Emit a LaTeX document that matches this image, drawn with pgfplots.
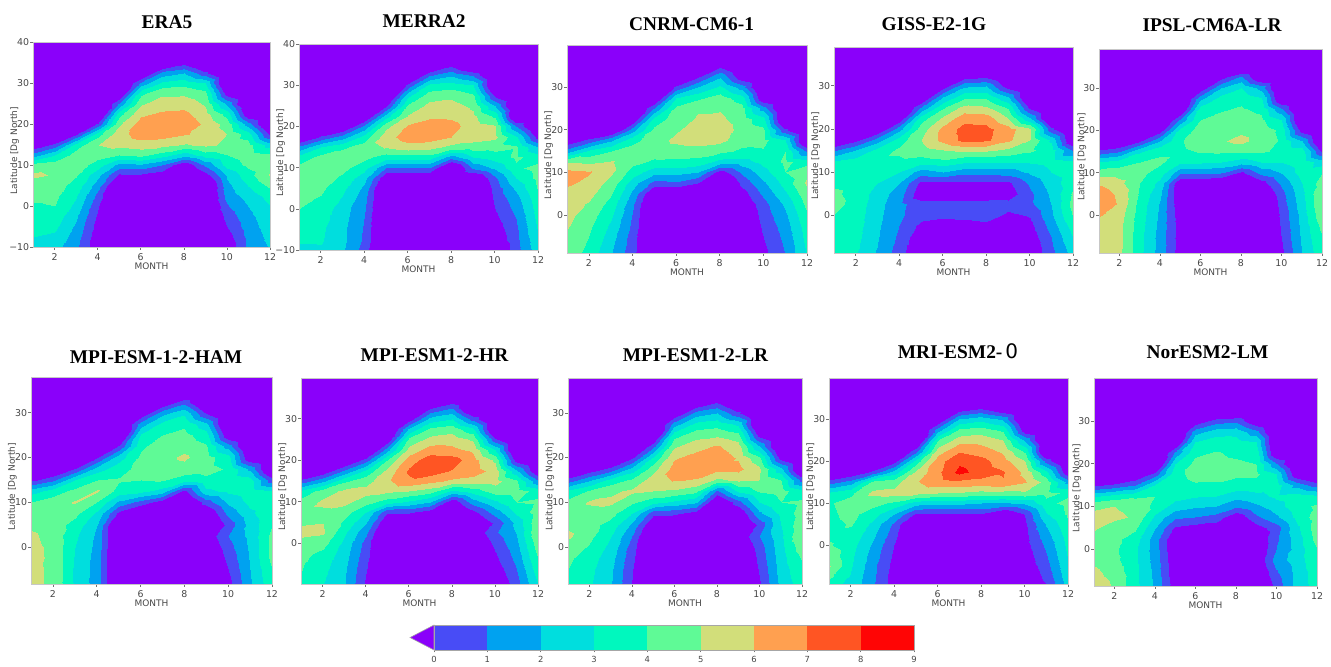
\documentclass[border=0pt]{standalone}
\usepackage{fontspec}
\setmainfont{Liberation Serif}
\newfontfamily\dv{DejaVu Sans}
\usepackage{pgfplots}
\pgfplotsset{compat=1.18}
\definecolor{cP}{RGB}{138,0,250}
\definecolor{cA}{RGB}{72,76,246}
\definecolor{cB}{RGB}{0,162,240}
\definecolor{cC}{RGB}{0,222,222}
\definecolor{cD}{RGB}{0,248,190}
\definecolor{cE}{RGB}{95,250,150}
\definecolor{cF}{RGB}{210,222,122}
\definecolor{cG}{RGB}{255,160,80}
\definecolor{cH}{RGB}{255,85,35}
\definecolor{cI}{RGB}{255,5,5}
\newcommand\tickfont{\dv\fontsize{4.7}{5}\selectfont}
\newcommand\labfont{\dv\fontsize{4.5}{5}\selectfont}
\newcommand\cbfont{\dv\fontsize{4.2}{5}\selectfont}
\newcommand\ttl{\fontsize{9.7}{11}\selectfont\bfseries}
\pgfplotsset{
  colormap={rb}{rgb255=(138,0,250) rgb255=(138,0,250) rgb255=(72,76,246) rgb255=(0,162,240) rgb255=(0,222,222) rgb255=(0,248,190) rgb255=(95,250,150) rgb255=(210,222,122) rgb255=(255,160,80) rgb255=(255,85,35) rgb255=(255,5,5)},
  panel/.style={
    scale only axis, anchor=south west,
    colormap name=rb, colormap access=piecewise constant,
    point meta min=-2, point meta max=9,
    xmin=1, xmax=12, xtick={2,4,6,8,10,12},
    axis on top, axis background/.style={fill=cP},
    axis line style={draw=black!22, line width=0.35pt},
    tick align=outside, xtick pos=left, ytick pos=left,
    major tick length=1.3pt, tick style={draw=black!55, line width=0.3pt},
    tick label style={font=\tickfont, text=black!72},
    /pgf/number format/assume math mode=true,
    xticklabel style={inner sep=0pt, anchor=north, yshift=-1.7pt},
    yticklabel style={inner sep=0pt, anchor=east, xshift=-0.4pt},
    xlabel={MONTH}, ylabel={Latitude [Dg North]},
    every axis x label/.style={at={(axis description cs:0.5,0)}, anchor=center, yshift=-9.5pt, font=\labfont, text=black!72},
    every axis y label/.style={at={(axis description cs:-0.077,0.47)}, anchor=center, rotate=90, font=\labfont, text=black!72},
  },
  cf/.style={surf, shader=interp, mesh/cols=12, point meta=explicit},
}
\begin{document}
\begin{tikzpicture}
\path[use as bounding box] (0pt,0pt) rectangle (665.5pt,-333pt);

% ERA5
\begin{axis}[panel, at={(16.5pt,-123.5pt)}, width=118.5pt, height=102.5pt, ymin=-10, ymax=40, ytick={-10,0,10,20,30,40}, yticklabels={−10,0,10,20,30,40}]
\addplot[cf] table[row sep=\\, x=x, y=y, meta=z] {x y z\\
1 35 -2\\2 35 -2\\3 35 -2\\4 35 -2\\5 35 -2\\6 35 -2\\7 35 -1.8\\8 35 -0.4\\9 35 -2\\10 35 -2\\11 35 -2\\12 35 -2\\
1 32.5 -2\\2 32.5 -2\\3 32.5 -2\\4 32.5 -2\\5 32.5 -2\\6 32.5 -1.8\\7 32.5 1.4\\8 32.5 2.0\\9 32.5 0.3\\10 32.5 -2\\11 32.5 -2\\12 32.5 -2\\
1 30 -2\\2 30 -2\\3 30 -2\\4 30 -2\\5 30 -2\\6 30 1.3\\7 30 3.2\\8 30 3.6\\9 30 3.0\\10 30 -2\\11 30 -2\\12 30 -2\\
1 27.5 -2\\2 27.5 -2\\3 27.5 -2\\4 27.5 -2\\5 27.5 -1.5\\6 27.5 3.7\\7 27.5 4.8\\8 27.5 4.8\\9 27.5 4.3\\10 27.5 -0.6\\11 27.5 -2\\12 27.5 -2\\
1 25 -2\\2 25 -2\\3 25 -2\\4 25 -2\\5 25 1.2\\6 25 4.9\\7 25 5.5\\8 25 5.6\\9 25 4.9\\10 25 1.8\\11 25 -2\\12 25 -2\\
1 22.5 -2\\2 22.5 -2\\3 22.5 -2\\4 22.5 -2\\5 22.5 3.6\\6 22.5 5.8\\7 22.5 6.2\\8 22.5 6.3\\9 22.5 5.4\\10 22.5 3.6\\11 22.5 -1\\12 22.5 -2\\
1 20 -2\\2 20 -2\\3 20 -2\\4 20 0.2\\5 20 4.8\\6 20 6.5\\7 20 6.8\\8 20 6.7\\9 20 5.8\\10 20 4.6\\11 20 1.5\\12 20 -2\\
1 17.5 -2\\2 17.5 -2\\3 17.5 -0.2\\4 17.5 3.6\\5 17.5 5.6\\6 17.5 6.5\\7 17.5 6.5\\8 17.5 6.1\\9 17.5 5.7\\10 17.5 5.0\\11 17.5 3.5\\12 17.5 -0.3\\
1 15 -1\\2 15 0.4\\3 15 3.5\\4 15 5.0\\5 15 5.3\\6 15 5.5\\7 15 5.3\\8 15 4.9\\9 15 5.2\\10 15 4.8\\11 15 4.4\\12 15 2.5\\
1 12.5 1.5\\2 12.5 3.0\\3 12.5 4.5\\4 12.5 4.4\\5 12.5 4.0\\6 12.5 4.3\\7 12.5 3.5\\8 12.5 2.4\\9 12.5 3.5\\10 12.5 4.0\\11 12.5 4.5\\12 12.5 4.2\\
1 10 4.3\\2 10 4.6\\3 10 4.6\\4 10 3.5\\5 10 1.6\\6 10 1.8\\7 10 1.0\\8 10 -1\\9 10 1.2\\10 10 3.4\\11 10 4.2\\12 10 4.8\\
1 7.5 5.2\\2 7.5 4.9\\3 7.5 4.1\\4 7.5 2.3\\5 7.5 -0.2\\6 7.5 -0.2\\7 7.5 -0.6\\8 7.5 -2\\9 7.5 -0.5\\10 7.5 2.2\\11 7.5 3.6\\12 7.5 5.1\\
1 5 4.5\\2 5 4.4\\3 5 3.6\\4 5 1.4\\5 5 -2\\6 5 -2\\7 5 -2\\8 5 -2\\9 5 -2\\10 5 1.7\\11 5 3.0\\12 5 4.2\\
1 2.5 4.2\\2 2.5 4.2\\3 2.5 3.1\\4 2.5 0.6\\5 2.5 -2\\6 2.5 -2\\7 2.5 -2\\8 2.5 -2\\9 2.5 -2\\10 2.5 1.4\\11 2.5 2.4\\12 2.5 3.4\\
1 0 3.9\\2 0 4.0\\3 0 2.7\\4 0 0.1\\5 0 -2\\6 0 -2\\7 0 -2\\8 0 -2\\9 0 -2\\10 0 0.9\\11 0 2.0\\12 0 3.0\\
1 -2.5 3.6\\2 -2.5 3.6\\3 -2.5 2.2\\4 -2.5 -0.2\\5 -2.5 -2\\6 -2.5 -2\\7 -2.5 -2\\8 -2.5 -2\\9 -2.5 -2\\10 -2.5 0.4\\11 -2.5 1.7\\12 -2.5 2.7\\
1 -5 3.3\\2 -5 3.2\\3 -5 1.8\\4 -5 -0.5\\5 -5 -2\\6 -5 -2\\7 -5 -2\\8 -5 -2\\9 -5 -2\\10 -5 0\\11 -5 1.5\\12 -5 2.5\\
1 -7.5 3.0\\2 -7.5 2.8\\3 -7.5 1.5\\4 -7.5 -0.7\\5 -7.5 -2\\6 -7.5 -2\\7 -7.5 -2\\8 -7.5 -2\\9 -7.5 -2\\10 -7.5 -0.5\\11 -7.5 1.3\\12 -7.5 2.3\\
1 -10 2.7\\2 -10 2.4\\3 -10 1.2\\4 -10 -0.8\\5 -10 -2\\6 -10 -2\\7 -10 -2\\8 -10 -2\\9 -10 -2\\10 -10 -0.9\\11 -10 1.2\\12 -10 2.1\\
};
\end{axis}

% MERRA2
\begin{axis}[panel, at={(149.5pt,-125pt)}, width=119.5pt, height=103pt, ymin=-10, ymax=40, ytick={-10,0,10,20,30,40}, yticklabels={−10,0,10,20,30,40}]
\addplot[cf] table[row sep=\\, x=x, y=y, meta=z] {x y z\\
1 35 -2\\2 35 -2\\3 35 -2\\4 35 -2\\5 35 -2\\6 35 -2\\7 35 -2\\8 35 -0.3\\9 35 -2\\10 35 -2\\11 35 -2\\12 35 -2\\
1 32.5 -2\\2 32.5 -2\\3 32.5 -2\\4 32.5 -2\\5 32.5 -2\\6 32.5 -2\\7 32.5 0.8\\8 32.5 1.8\\9 32.5 0.8\\10 32.5 -2\\11 32.5 -2\\12 32.5 -2\\
1 30 -2\\2 30 -2\\3 30 -2\\4 30 -2\\5 30 -2\\6 30 0.3\\7 30 3.2\\8 30 3.5\\9 30 3.0\\10 30 -2\\11 30 -2\\12 30 -2\\
1 27.5 -2\\2 27.5 -2\\3 27.5 -2\\4 27.5 -2\\5 27.5 -2\\6 27.5 2.8\\7 27.5 4.6\\8 27.5 4.8\\9 27.5 4.2\\10 27.5 -0.2\\11 27.5 -2\\12 27.5 -2\\
1 25 -2\\2 25 -2\\3 25 -2\\4 25 -2\\5 25 -0.1\\6 25 4.2\\7 25 5.3\\8 25 5.4\\9 25 4.8\\10 25 2.0\\11 25 -2\\12 25 -2\\
1 22.5 -2\\2 22.5 -2\\3 22.5 -2\\4 22.5 -1.5\\5 22.5 2.5\\6 22.5 5.1\\7 22.5 5.8\\8 22.5 5.8\\9 22.5 5.2\\10 22.5 3.8\\11 22.5 -2\\12 22.5 -2\\
1 20 -2\\2 20 -2\\3 20 -1.5\\4 20 1.2\\5 20 4.7\\6 20 6.1\\7 20 6.5\\8 20 6.4\\9 20 5.5\\10 20 5.1\\11 20 1.0\\12 20 -2\\
1 17.5 -1.5\\2 17.5 0.2\\3 17.5 1.5\\4 17.5 3.4\\5 17.5 5.6\\6 17.5 6.5\\7 17.5 6.5\\8 17.5 6.0\\9 17.5 5.4\\10 17.5 5.2\\11 17.5 3.2\\12 17.5 -0.5\\
1 15 1.2\\2 15 3.0\\3 15 3.8\\4 15 4.5\\5 15 5.1\\6 15 5.6\\7 15 5.4\\8 15 4.7\\9 15 4.6\\10 15 4.4\\11 15 4.1\\12 15 2.0\\
1 12.5 3.4\\2 12.5 4.3\\3 12.5 4.5\\4 12.5 4.3\\5 12.5 3.5\\6 12.5 3.6\\7 12.5 3.6\\8 12.5 1.5\\9 12.5 3.0\\10 12.5 3.5\\11 12.5 4.2\\12 12.5 3.5\\
1 10 4.3\\2 10 4.6\\3 10 4.3\\4 10 3.4\\5 10 1.0\\6 10 1.0\\7 10 1.0\\8 10 -2\\9 10 1.2\\10 10 2.2\\11 10 3.8\\12 10 4.4\\
1 7.5 4.4\\2 7.5 4.5\\3 7.5 3.8\\4 7.5 2.4\\5 7.5 -1\\6 7.5 -1\\7 7.5 -1\\8 7.5 -2\\9 7.5 -1.5\\10 7.5 0.8\\11 7.5 3.0\\12 7.5 4.3\\
1 5 4.3\\2 5 4.2\\3 5 3.3\\4 5 1.8\\5 5 -2\\6 5 -2\\7 5 -2\\8 5 -2\\9 5 -2\\10 5 0.4\\11 5 2.2\\12 5 4.1\\
1 2.5 4.2\\2 2.5 3.9\\3 2.5 2.9\\4 2.5 1.4\\5 2.5 -2\\6 2.5 -2\\7 2.5 -2\\8 2.5 -2\\9 2.5 -2\\10 2.5 0.2\\11 2.5 1.6\\12 2.5 3.7\\
1 0 4.0\\2 0 3.6\\3 0 2.5\\4 0 1.2\\5 0 -2\\6 0 -2\\7 0 -2\\8 0 -2\\9 0 -2\\10 0 0.0\\11 0 1.3\\12 0 3.5\\
1 -2.5 3.8\\2 -2.5 3.4\\3 -2.5 2.4\\4 -2.5 1.0\\5 -2.5 -2\\6 -2.5 -2\\7 -2.5 -2\\8 -2.5 -2\\9 -2.5 -2\\10 -2.5 -0.3\\11 -2.5 1.0\\12 -2.5 3.3\\
1 -5 3.5\\2 -5 3.2\\3 -5 2.3\\4 -5 0.9\\5 -5 -2\\6 -5 -2\\7 -5 -2\\8 -5 -2\\9 -5 -2\\10 -5 -0.6\\11 -5 0.8\\12 -5 3.1\\
1 -7.5 3.1\\2 -7.5 3.1\\3 -7.5 2.3\\4 -7.5 0.8\\5 -7.5 -2\\6 -7.5 -2\\7 -7.5 -2\\8 -7.5 -2\\9 -7.5 -2\\10 -7.5 -0.9\\11 -7.5 0.7\\12 -7.5 2.8\\
1 -10 2.8\\2 -10 2.9\\3 -10 2.2\\4 -10 0.6\\5 -10 -2\\6 -10 -2\\7 -10 -2\\8 -10 -2\\9 -10 -2\\10 -10 -1.5\\11 -10 0.6\\12 -10 2.6\\
};
\end{axis}

% CNRM-CM6-1
\begin{axis}[panel, at={(283.5pt,-126.5pt)}, width=120pt, height=104pt, ymin=-8.9, ymax=39.8, ytick={0,10,20,30}]
\addplot[cf] table[row sep=\\, x=x, y=y, meta=z] {x y z\\
1 35 -2\\2 35 -2\\3 35 -2\\4 35 -2\\5 35 -2\\6 35 -2\\7 35 -2\\8 35 -0.3\\9 35 -2\\10 35 -2\\11 35 -2\\12 35 -2\\
1 32.5 -2\\2 32.5 -2\\3 32.5 -2\\4 32.5 -2\\5 32.5 -2\\6 32.5 -2\\7 32.5 -0.3\\8 32.5 1.8\\9 32.5 -1.0\\10 32.5 -2\\11 32.5 -2\\12 32.5 -2\\
1 30 -2\\2 30 -2\\3 30 -2\\4 30 -2\\5 30 -2\\6 30 0.2\\7 30 2.0\\8 30 3.2\\9 30 1.5\\10 30 -2\\11 30 -2\\12 30 -2\\
1 27.5 -2\\2 27.5 -2\\3 27.5 -2\\4 27.5 -2\\5 27.5 -1.5\\6 27.5 3.0\\7 27.5 3.8\\8 27.5 4.5\\9 27.5 3.5\\10 27.5 -1.2\\11 27.5 -2\\12 27.5 -2\\
1 25 -2\\2 25 -2\\3 25 -2\\4 25 -2\\5 25 1.0\\6 25 4.2\\7 25 4.9\\8 25 4.9\\9 25 4.3\\10 25 1.5\\11 25 -2\\12 25 -2\\
1 22.5 -2\\2 22.5 -2\\3 22.5 -2\\4 22.5 -1.2\\5 22.5 3.3\\6 22.5 4.6\\7 22.5 5.1\\8 22.5 5.2\\9 22.5 4.5\\10 22.5 3.4\\11 22.5 -2\\12 22.5 -2\\
1 20 -2\\2 20 -2\\3 20 -1.5\\4 20 1.5\\5 20 4.3\\6 20 4.9\\7 20 5.4\\8 20 5.6\\9 20 4.6\\10 20 4.2\\11 20 0.2\\12 20 -2\\
1 17.5 -1\\2 17.5 0.3\\3 17.5 1.8\\4 17.5 3.6\\5 17.5 4.6\\6 17.5 5.2\\7 17.5 5.4\\8 17.5 5.3\\9 17.5 4.4\\10 17.5 4.3\\11 17.5 3.0\\12 17.5 -2\\
1 15 1.5\\2 15 3.2\\3 15 4.0\\4 15 4.5\\5 15 4.5\\6 15 4.6\\7 15 4.6\\8 15 4.3\\9 15 3.8\\10 15 3.9\\11 15 4.0\\12 15 0.8\\
1 12.5 5.0\\2 12.5 4.8\\3 12.5 5.1\\4 12.5 4.3\\5 12.5 3.8\\6 12.5 3.7\\7 12.5 3.6\\8 12.5 2.6\\9 12.5 2.6\\10 12.5 3.3\\11 12.5 4.2\\12 12.5 3.6\\
1 10 6.3\\2 10 6.1\\3 10 5.2\\4 10 3.6\\5 10 2.4\\6 10 2.4\\7 10 2.0\\8 10 -0.5\\9 10 1.2\\10 10 2.6\\11 10 4.0\\12 10 4.8\\
1 7.5 6.2\\2 7.5 5.7\\3 7.5 4.6\\4 7.5 2.5\\5 7.5 0.6\\6 7.5 0.8\\7 7.5 0.0\\8 7.5 -2\\9 7.5 0.3\\10 7.5 1.8\\11 7.5 3.4\\12 7.5 5.2\\
1 5 5.6\\2 5 5.3\\3 5 4.1\\4 5 1.8\\5 5 -1.4\\6 5 -1.4\\7 5 -2\\8 5 -2\\9 5 -0.5\\10 5 1.2\\11 5 2.8\\12 5 4.7\\
1 2.5 5.4\\2 2.5 4.9\\3 2.5 3.6\\4 2.5 1.3\\5 2.5 -2\\6 2.5 -2\\7 2.5 -2\\8 2.5 -2\\9 2.5 -1.0\\10 2.5 0.6\\11 2.5 2.2\\12 2.5 4.3\\
1 0 5.3\\2 0 4.5\\3 0 3.2\\4 0 1.0\\5 0 -2\\6 0 -2\\7 0 -2\\8 0 -2\\9 0 -1.3\\10 0 0.4\\11 0 1.8\\12 0 3.9\\
1 -2.5 5.1\\2 -2.5 4.2\\3 -2.5 2.8\\4 -2.5 0.8\\5 -2.5 -2\\6 -2.5 -2\\7 -2.5 -2\\8 -2.5 -2\\9 -2.5 -1.5\\10 -2.5 0.2\\11 -2.5 1.5\\12 -2.5 3.6\\
1 -5 4.9\\2 -5 4.0\\3 -5 2.5\\4 -5 0.6\\5 -5 -2\\6 -5 -2\\7 -5 -2\\8 -5 -2\\9 -5 -1.7\\10 -5 0.0\\11 -5 1.3\\12 -5 3.4\\
1 -7.5 4.7\\2 -7.5 3.8\\3 -7.5 2.2\\4 -7.5 0.5\\5 -7.5 -2\\6 -7.5 -2\\7 -7.5 -2\\8 -7.5 -2\\9 -7.5 -1.9\\10 -7.5 -0.2\\11 -7.5 1.1\\12 -7.5 3.2\\
1 -10 4.5\\2 -10 3.6\\3 -10 2.0\\4 -10 0.4\\5 -10 -2\\6 -10 -2\\7 -10 -2\\8 -10 -2\\9 -10 -2\\10 -10 -0.4\\11 -10 1.0\\12 -10 3.0\\
};
\end{axis}

% GISS-E2-1G
\begin{axis}[panel, at={(417pt,-126.5pt)}, width=119.5pt, height=103pt, ymin=-8.8, ymax=39, ytick={0,10,20,30}]
\addplot[cf] table[row sep=\\, x=x, y=y, meta=z] {x y z\\
1 35 -2\\2 35 -2\\3 35 -2\\4 35 -2\\5 35 -2\\6 35 -2\\7 35 -2\\8 35 -2\\9 35 -2\\10 35 -2\\11 35 -2\\12 35 -2\\
1 32.5 -2\\2 32.5 -2\\3 32.5 -2\\4 32.5 -2\\5 32.5 -2\\6 32.5 -2\\7 32.5 -1.0\\8 32.5 -0.6\\9 32.5 -2\\10 32.5 -2\\11 32.5 -2\\12 32.5 -2\\
1 30 -2\\2 30 -2\\3 30 -2\\4 30 -2\\5 30 -2\\6 30 -0.6\\7 30 1.8\\8 30 2.0\\9 30 -0.6\\10 30 -2\\11 30 -2\\12 30 -2\\
1 27.5 -2\\2 27.5 -2\\3 27.5 -2\\4 27.5 -2\\5 27.5 -1.5\\6 27.5 2.0\\7 27.5 3.7\\8 27.5 3.8\\9 27.5 2.0\\10 27.5 -2\\11 27.5 -2\\12 27.5 -2\\
1 25 -2\\2 25 -2\\3 25 -2\\4 25 -2\\5 25 1.0\\6 25 3.8\\7 25 5.3\\8 25 5.1\\9 25 3.8\\10 25 -0.4\\11 25 -2\\12 25 -2\\
1 22.5 -2\\2 22.5 -2\\3 22.5 -2\\4 22.5 -1.0\\5 22.5 3.5\\6 22.5 5.2\\7 22.5 6.6\\8 22.5 6.5\\9 22.5 5.0\\10 22.5 2.0\\11 22.5 -2\\12 22.5 -2\\
1 20 -2\\2 20 -2\\3 20 -1.2\\4 20 1.6\\5 20 4.5\\6 20 6.3\\7 20 7.4\\8 20 7.3\\9 20 6.4\\10 20 5.2\\11 20 0.3\\12 20 -2\\
1 17.5 -1.5\\2 17.5 -0.3\\3 17.5 1.5\\4 17.5 3.5\\5 17.5 5.0\\6 17.5 6.3\\7 17.5 7.3\\8 17.5 7.2\\9 17.5 6.2\\10 17.5 5.0\\11 17.5 2.8\\12 17.5 -1.5\\
1 15 0.8\\2 15 2.0\\3 15 3.3\\4 15 4.2\\5 15 4.6\\6 15 5.0\\7 15 5.2\\8 15 5.2\\9 15 4.8\\10 15 4.2\\11 15 3.5\\12 15 0.8\\
1 12.5 3.0\\2 12.5 3.4\\3 12.5 3.8\\4 12.5 3.8\\5 12.5 3.6\\6 12.5 3.8\\7 12.5 3.3\\8 12.5 3.3\\9 12.5 3.2\\10 12.5 3.2\\11 12.5 3.4\\12 12.5 3.0\\
1 10 3.6\\2 10 3.7\\3 10 3.6\\4 10 3.0\\5 10 1.5\\6 10 2.0\\7 10 1.4\\8 10 1.4\\9 10 1.5\\10 10 2.2\\11 10 3.0\\12 10 3.5\\
1 7.5 3.8\\2 7.5 3.7\\3 7.5 3.0\\4 7.5 2.0\\5 7.5 -0.3\\6 7.5 -0.3\\7 7.5 -0.3\\8 7.5 -0.3\\9 7.5 -0.2\\10 7.5 1.2\\11 7.5 2.5\\12 7.5 3.7\\
1 5 4.2\\2 5 3.6\\3 5 2.6\\4 5 1.5\\5 5 -0.8\\6 5 -0.8\\7 5 -0.8\\8 5 -0.8\\9 5 -0.6\\10 5 0.8\\11 5 2.2\\12 5 4.2\\
1 2.5 4.4\\2 2.5 3.6\\3 2.5 2.4\\4 2.5 1.3\\5 2.5 0.4\\6 2.5 0.4\\7 2.5 0.5\\8 2.5 0.5\\9 2.5 0.4\\10 2.5 0.8\\11 2.5 2.0\\12 2.5 4.4\\
1 0 4.0\\2 0 3.5\\3 0 2.3\\4 0 1.2\\5 0 0.4\\6 0 0.2\\7 0 0.3\\8 0 0.5\\9 0 -0.2\\10 0 0.1\\11 0 1.8\\12 0 4.1\\
1 -2.5 3.7\\2 -2.5 3.4\\3 -2.5 2.2\\4 -2.5 1.0\\5 -2.5 -0.3\\6 -2.5 -0.5\\7 -2.5 -0.5\\8 -2.5 -0.3\\9 -2.5 -0.8\\10 -2.5 -0.3\\11 -2.5 1.4\\12 -2.5 3.5\\
1 -5 3.5\\2 -5 3.3\\3 -5 2.1\\4 -5 0.8\\5 -5 -0.8\\6 -5 -1.2\\7 -5 -1.5\\8 -5 -1.2\\9 -5 -1.4\\10 -5 -0.6\\11 -5 1.0\\12 -5 3.0\\
1 -7.5 3.4\\2 -7.5 3.2\\3 -7.5 2.0\\4 -7.5 0.6\\5 -7.5 -1.2\\6 -7.5 -1.8\\7 -7.5 -2\\8 -7.5 -1.8\\9 -7.5 -1.8\\10 -7.5 -0.9\\11 -7.5 0.8\\12 -7.5 2.6\\
1 -10 3.3\\2 -10 2.9\\3 -10 1.8\\4 -10 0.5\\5 -10 -1.5\\6 -10 -2\\7 -10 -2\\8 -10 -2\\9 -10 -2\\10 -10 -1.1\\11 -10 0.6\\12 -10 2.2\\
};
\end{axis}

% IPSL-CM6A-LR
\begin{axis}[panel, at={(549.5pt,-126.5pt)}, width=111.5pt, height=102pt, ymin=-9, ymax=39.2, ytick={0,10,20,30}]
\addplot[cf] table[row sep=\\, x=x, y=y, meta=z] {x y z\\
1 35 -2\\2 35 -2\\3 35 -2\\4 35 -2\\5 35 -2\\6 35 -2\\7 35 -2\\8 35 -2\\9 35 -2\\10 35 -2\\11 35 -2\\12 35 -2\\
1 32.5 -2\\2 32.5 -2\\3 32.5 -2\\4 32.5 -2\\5 32.5 -2\\6 32.5 -2\\7 32.5 -0.5\\8 32.5 1.2\\9 32.5 -1.4\\10 32.5 -2\\11 32.5 -2\\12 32.5 -2\\
1 30 -2\\2 30 -2\\3 30 -2\\4 30 -2\\5 30 -2\\6 30 -0.8\\7 30 2.0\\8 30 3.0\\9 30 1.7\\10 30 -2\\11 30 -2\\12 30 -2\\
1 27.5 -2\\2 27.5 -2\\3 27.5 -2\\4 27.5 -2\\5 27.5 -2\\6 27.5 1.8\\7 27.5 3.5\\8 27.5 3.8\\9 27.5 3.2\\10 27.5 -1.4\\11 27.5 -2\\12 27.5 -2\\
1 25 -2\\2 25 -2\\3 25 -2\\4 25 -2\\5 25 -1.5\\6 25 3.4\\7 25 3.9\\8 25 4.1\\9 25 3.8\\10 25 1.2\\11 25 -2\\12 25 -2\\
1 22.5 -2\\2 22.5 -2\\3 22.5 -2\\4 22.5 -2\\5 22.5 1.2\\6 22.5 4.0\\7 22.5 4.3\\8 22.5 4.4\\9 22.5 4.2\\10 22.5 3.0\\11 22.5 -2\\12 22.5 -2\\
1 20 -2\\2 20 -2\\3 20 -2\\4 20 -0.6\\5 20 3.3\\6 20 4.4\\7 20 4.7\\8 20 4.8\\9 20 4.5\\10 20 3.8\\11 20 -0.6\\12 20 -2\\
1 17.5 -2\\2 17.5 -1.5\\3 17.5 -0.1\\4 17.5 2.0\\5 17.5 3.9\\6 17.5 4.5\\7 17.5 4.9\\8 17.5 5.3\\9 17.5 4.5\\10 17.5 3.9\\11 17.5 2.0\\12 17.5 -2\\
1 15 0.2\\2 15 0.8\\3 15 2.8\\4 15 3.8\\5 15 3.8\\6 15 4.1\\7 15 4.2\\8 15 4.2\\9 15 4.2\\10 15 3.7\\11 15 3.5\\12 15 -0.2\\
1 12.5 3.0\\2 12.5 3.5\\3 12.5 4.0\\4 12.5 4.2\\5 12.5 3.2\\6 12.5 3.2\\7 12.5 3.0\\8 12.5 2.5\\9 12.5 3.0\\10 12.5 3.0\\11 12.5 3.7\\12 12.5 2.5\\
1 10 4.5\\2 10 4.6\\3 10 4.3\\4 10 3.5\\5 10 1.2\\6 10 1.2\\7 10 1.0\\8 10 -0.3\\9 10 1.3\\10 10 2.0\\11 10 3.5\\12 10 4.0\\
1 7.5 5.9\\2 7.5 5.3\\3 7.5 4.0\\4 7.5 2.7\\5 7.5 -1.0\\6 7.5 -1.0\\7 7.5 -1.2\\8 7.5 -2\\9 7.5 -0.5\\10 7.5 1.2\\11 7.5 3.0\\12 7.5 4.5\\
1 5 6.6\\2 5 5.8\\3 5 3.8\\4 5 2.2\\5 5 -1.0\\6 5 -2\\7 5 -2\\8 5 -2\\9 5 -1.4\\10 5 0.6\\11 5 2.8\\12 5 5.0\\
1 2.5 6.7\\2 2.5 5.9\\3 2.5 3.6\\4 2.5 1.9\\5 2.5 -0.8\\6 2.5 -2\\7 2.5 -2\\8 2.5 -2\\9 2.5 -2\\10 2.5 0.4\\11 2.5 2.6\\12 2.5 5.1\\
1 0 6.1\\2 0 5.5\\3 0 3.5\\4 0 1.8\\5 0 -0.6\\6 0 -2\\7 0 -2\\8 0 -2\\9 0 -2\\10 0 0.2\\11 0 2.4\\12 0 4.8\\
1 -2.5 5.5\\2 -2.5 5.3\\3 -2.5 3.4\\4 -2.5 1.7\\5 -2.5 -0.5\\6 -2.5 -2\\7 -2.5 -2\\8 -2.5 -2\\9 -2.5 -2\\10 -2.5 0.1\\11 -2.5 2.3\\12 -2.5 4.3\\
1 -5 5.3\\2 -5 5.3\\3 -5 3.3\\4 -5 1.6\\5 -5 -0.5\\6 -5 -2\\7 -5 -2\\8 -5 -2\\9 -5 -2\\10 -5 0.0\\11 -5 2.2\\12 -5 4.0\\
1 -7.5 5.2\\2 -7.5 5.3\\3 -7.5 3.3\\4 -7.5 1.6\\5 -7.5 -0.5\\6 -7.5 -2\\7 -7.5 -2\\8 -7.5 -2\\9 -7.5 -2\\10 -7.5 -0.2\\11 -7.5 2.1\\12 -7.5 3.8\\
1 -10 5.1\\2 -10 5.2\\3 -10 3.2\\4 -10 1.5\\5 -10 -0.5\\6 -10 -2\\7 -10 -2\\8 -10 -2\\9 -10 -2\\10 -10 -0.3\\11 -10 2.0\\12 -10 3.6\\
};
\end{axis}

% MPI-ESM-1-2-HAM
\begin{axis}[panel, at={(15.5pt,-292pt)}, width=120.5pt, height=103.5pt, ymin=-8.3, ymax=38, ytick={0,10,20,30}]
\addplot[cf] table[row sep=\\, x=x, y=y, meta=z] {x y z\\
1 35 -2\\2 35 -2\\3 35 -2\\4 35 -2\\5 35 -2\\6 35 -2\\7 35 -2\\8 35 -2\\9 35 -2\\10 35 -2\\11 35 -2\\12 35 -2\\
1 32.5 -2\\2 32.5 -2\\3 32.5 -2\\4 32.5 -2\\5 32.5 -2\\6 32.5 -2\\7 32.5 -1.2\\8 32.5 0.6\\9 32.5 -2\\10 32.5 -2\\11 32.5 -2\\12 32.5 -2\\
1 30 -2\\2 30 -2\\3 30 -2\\4 30 -2\\5 30 -2\\6 30 -1.0\\7 30 1.6\\8 30 2.8\\9 30 -0.1\\10 30 -2\\11 30 -2\\12 30 -2\\
1 27.5 -2\\2 27.5 -2\\3 27.5 -2\\4 27.5 -2\\5 27.5 -2\\6 27.5 1.5\\7 27.5 3.3\\8 27.5 3.8\\9 27.5 2.3\\10 27.5 -2\\11 27.5 -2\\12 27.5 -2\\
1 25 -2\\2 25 -2\\3 25 -2\\4 25 -2\\5 25 -2\\6 25 3.2\\7 25 4.0\\8 25 4.3\\9 25 3.5\\10 25 -1.0\\11 25 -2\\12 25 -2\\
1 22.5 -2\\2 22.5 -2\\3 22.5 -2\\4 22.5 -2\\5 22.5 0.1\\6 22.5 3.8\\7 22.5 4.5\\8 22.5 4.6\\9 22.5 4.1\\10 22.5 1.5\\11 22.5 -2\\12 22.5 -2\\
1 20 -2\\2 20 -2\\3 20 -2\\4 20 -0.2\\5 20 2.5\\6 20 4.2\\7 20 4.6\\8 20 5.2\\9 20 4.4\\10 20 3.4\\11 20 -1.2\\12 20 -2\\
1 17.5 -2\\2 17.5 -1.5\\3 17.5 0.1\\4 17.5 2.5\\5 17.5 3.6\\6 17.5 4.4\\7 17.5 4.5\\8 17.5 4.6\\9 17.5 4.3\\10 17.5 3.9\\11 17.5 1.8\\12 17.5 -2\\
1 15 -0.3\\2 15 0.8\\3 15 3.0\\4 15 4.0\\5 15 4.1\\6 15 4.0\\7 15 4.1\\8 15 3.5\\9 15 3.8\\10 15 3.8\\11 15 3.4\\12 15 0.4\\
1 12.5 2.5\\2 12.5 3.5\\3 12.5 4.3\\4 12.5 5.1\\5 12.5 3.6\\6 12.5 3.3\\7 12.5 2.6\\8 12.5 -0.3\\9 12.5 2.8\\10 12.5 3.2\\11 12.5 3.6\\12 12.5 3.0\\
1 10 4.0\\2 10 4.5\\3 10 5.1\\4 10 4.0\\5 10 1.8\\6 10 0.6\\7 10 -0.5\\8 10 -2\\9 10 0.5\\10 10 2.2\\11 10 3.3\\12 10 3.6\\
1 7.5 4.5\\2 7.5 4.5\\3 7.5 4.3\\4 7.5 2.8\\5 7.5 -0.3\\6 7.5 -1.5\\7 7.5 -2\\8 7.5 -2\\9 7.5 -1.2\\10 7.5 1.3\\11 7.5 2.8\\12 7.5 3.8\\
1 5 4.8\\2 5 4.5\\3 5 3.6\\4 5 2.0\\5 5 -2\\6 5 -2\\7 5 -2\\8 5 -2\\9 5 -2\\10 5 0.4\\11 5 2.4\\12 5 4.0\\
1 2.5 5.2\\2 2.5 4.6\\3 2.5 3.2\\4 2.5 1.8\\5 2.5 -2\\6 2.5 -2\\7 2.5 -2\\8 2.5 -2\\9 2.5 -0.8\\10 2.5 1.0\\11 2.5 2.3\\12 2.5 4.3\\
1 0 5.3\\2 0 4.75\\3 0 3.0\\4 0 1.7\\5 0 -2\\6 0 -2\\7 0 -2\\8 0 -2\\9 0 -1.2\\10 0 0.6\\11 0 2.2\\12 0 4.4\\
1 -2.5 5.3\\2 -2.5 4.8\\3 -2.5 2.9\\4 -2.5 1.6\\5 -2.5 -2\\6 -2.5 -2\\7 -2.5 -2\\8 -2.5 -2\\9 -2.5 -1.6\\10 -2.5 0.3\\11 -2.5 2.1\\12 -2.5 4.3\\
1 -5 5.2\\2 -5 4.85\\3 -5 2.8\\4 -5 1.6\\5 -5 -2\\6 -5 -2\\7 -5 -2\\8 -5 -2\\9 -5 -2\\10 -5 0.0\\11 -5 2.0\\12 -5 4.0\\
1 -7.5 5.2\\2 -7.5 4.85\\3 -7.5 2.8\\4 -7.5 1.5\\5 -7.5 -2\\6 -7.5 -2\\7 -7.5 -2\\8 -7.5 -2\\9 -7.5 -2\\10 -7.5 -0.3\\11 -7.5 1.9\\12 -7.5 3.8\\
1 -10 5.2\\2 -10 4.85\\3 -10 3.0\\4 -10 1.6\\5 -10 -2\\6 -10 -2\\7 -10 -2\\8 -10 -2\\9 -10 -2\\10 -10 -0.5\\11 -10 1.8\\12 -10 3.6\\
};
\end{axis}

% MPI-ESM1-2-HR
\begin{axis}[panel, at={(150.5pt,-292pt)}, width=118.5pt, height=103pt, ymin=-9.8, ymax=39.8, ytick={0,10,20,30}]
\addplot[cf] table[row sep=\\, x=x, y=y, meta=z] {x y z\\
1 35 -2\\2 35 -2\\3 35 -2\\4 35 -2\\5 35 -2\\6 35 -2\\7 35 -2\\8 35 -1.2\\9 35 -2\\10 35 -2\\11 35 -2\\12 35 -2\\
1 32.5 -2\\2 32.5 -2\\3 32.5 -2\\4 32.5 -2\\5 32.5 -2\\6 32.5 -2\\7 32.5 -0.1\\8 32.5 1.0\\9 32.5 -2\\10 32.5 -2\\11 32.5 -2\\12 32.5 -2\\
1 30 -2\\2 30 -2\\3 30 -2\\4 30 -2\\5 30 -2\\6 30 -0.6\\7 30 2.4\\8 30 3.0\\9 30 0.6\\10 30 -2\\11 30 -2\\12 30 -2\\
1 27.5 -2\\2 27.5 -2\\3 27.5 -2\\4 27.5 -2\\5 27.5 -2\\6 27.5 2.2\\7 27.5 4.2\\8 27.5 4.6\\9 27.5 3.2\\10 27.5 -2\\11 27.5 -2\\12 27.5 -2\\
1 25 -2\\2 25 -2\\3 25 -2\\4 25 -2\\5 25 -1.0\\6 25 4.2\\7 25 5.3\\8 25 5.5\\9 25 4.8\\10 25 0.2\\11 25 -2\\12 25 -2\\
1 22.5 -2\\2 22.5 -2\\3 22.5 -2\\4 22.5 -2\\5 22.5 1.6\\6 22.5 5.4\\7 22.5 6.5\\8 22.5 6.3\\9 22.5 5.8\\10 22.5 3.0\\11 22.5 -2\\12 22.5 -2\\
1 20 -2\\2 20 -2\\3 20 -1.6\\4 20 0.5\\5 20 4.0\\6 20 6.5\\7 20 7.6\\8 20 7.5\\9 20 6.4\\10 20 4.8\\11 20 -0.5\\12 20 -2\\
1 17.5 -2\\2 17.5 -0.8\\3 17.5 1.2\\4 17.5 3.3\\5 17.5 5.3\\6 17.5 7.2\\7 17.5 7.6\\8 17.5 6.9\\9 17.5 6.5\\10 17.5 5.6\\11 17.5 2.3\\12 17.5 -1.2\\
1 15 0.4\\2 15 1.8\\3 15 3.8\\4 15 4.6\\5 15 5.8\\6 15 6.8\\7 15 6.3\\8 15 5.8\\9 15 5.6\\10 15 5.4\\11 15 4.2\\12 15 1.2\\
1 12.5 3.2\\2 12.5 4.5\\3 12.5 5.2\\4 12.5 5.4\\5 12.5 5.2\\6 12.5 5.0\\7 12.5 4.5\\8 12.5 2.8\\9 12.5 3.5\\10 12.5 4.5\\11 12.5 4.5\\12 12.5 3.6\\
1 10 4.4\\2 10 5.2\\3 10 5.3\\4 10 4.4\\5 10 3.5\\6 10 2.8\\7 10 2.0\\8 10 -0.8\\9 10 1.5\\10 10 2.8\\11 10 4.0\\12 10 4.2\\
1 7.5 4.7\\2 7.5 4.8\\3 7.5 4.5\\4 7.5 3.0\\5 7.5 0.2\\6 7.5 0.2\\7 7.5 -0.5\\8 7.5 -2\\9 7.5 -0.3\\10 7.5 1.5\\11 7.5 3.2\\12 7.5 4.5\\
1 5 4.9\\2 5 5.0\\3 5 3.8\\4 5 2.0\\5 5 -1.2\\6 5 -2\\7 5 -2\\8 5 -2\\9 5 -1.5\\10 5 0.2\\11 5 2.3\\12 5 4.8\\
1 2.5 5.3\\2 2.5 5.1\\3 2.5 3.2\\4 2.5 1.2\\5 2.5 -2\\6 2.5 -2\\7 2.5 -2\\8 2.5 -2\\9 2.5 -0.8\\10 2.5 0.8\\11 2.5 2.0\\12 2.5 5.0\\
1 0 4.6\\2 0 4.4\\3 0 2.8\\4 0 0.6\\5 0 -2\\6 0 -2\\7 0 -2\\8 0 -2\\9 0 -1.5\\10 0 0.3\\11 0 1.7\\12 0 4.6\\
1 -2.5 4.3\\2 -2.5 3.7\\3 -2.5 2.5\\4 -2.5 0.4\\5 -2.5 -2\\6 -2.5 -2\\7 -2.5 -2\\8 -2.5 -2\\9 -2.5 -2\\10 -2.5 -0.1\\11 -2.5 1.4\\12 -2.5 4.2\\
1 -5 4.1\\2 -5 3.4\\3 -5 2.3\\4 -5 0.2\\5 -5 -2\\6 -5 -2\\7 -5 -2\\8 -5 -2\\9 -5 -2\\10 -5 -0.4\\11 -5 1.1\\12 -5 3.8\\
1 -7.5 4.0\\2 -7.5 3.2\\3 -7.5 2.2\\4 -7.5 0.0\\5 -7.5 -2\\6 -7.5 -2\\7 -7.5 -2\\8 -7.5 -2\\9 -7.5 -2\\10 -7.5 -0.8\\11 -7.5 0.8\\12 -7.5 3.4\\
1 -10 4.0\\2 -10 3.0\\3 -10 2.1\\4 -10 -0.2\\5 -10 -2\\6 -10 -2\\7 -10 -2\\8 -10 -2\\9 -10 -2\\10 -10 -1.2\\11 -10 0.5\\12 -10 3.0\\
};
\end{axis}

% MPI-ESM1-2-LR
\begin{axis}[panel, at={(284pt,-292pt)}, width=117pt, height=103pt, ymin=-8.3, ymax=37.8, ytick={0,10,20,30}]
\addplot[cf] table[row sep=\\, x=x, y=y, meta=z] {x y z\\
1 35 -2\\2 35 -2\\3 35 -2\\4 35 -2\\5 35 -2\\6 35 -2\\7 35 -2\\8 35 -2\\9 35 -2\\10 35 -2\\11 35 -2\\12 35 -2\\
1 32.5 -2\\2 32.5 -2\\3 32.5 -2\\4 32.5 -2\\5 32.5 -2\\6 32.5 -2\\7 32.5 -1.4\\8 32.5 -0.1\\9 32.5 -2\\10 32.5 -2\\11 32.5 -2\\12 32.5 -2\\
1 30 -2\\2 30 -2\\3 30 -2\\4 30 -2\\5 30 -2\\6 30 -1.2\\7 30 1.4\\8 30 2.0\\9 30 0.2\\10 30 -2\\11 30 -2\\12 30 -2\\
1 27.5 -2\\2 27.5 -2\\3 27.5 -2\\4 27.5 -2\\5 27.5 -2\\6 27.5 1.5\\7 27.5 3.3\\8 27.5 3.6\\9 27.5 2.8\\10 27.5 -2\\11 27.5 -2\\12 27.5 -2\\
1 25 -2\\2 25 -2\\3 25 -2\\4 25 -2\\5 25 -2\\6 25 3.6\\7 25 4.6\\8 25 4.8\\9 25 4.3\\10 25 -0.4\\11 25 -2\\12 25 -2\\
1 22.5 -2\\2 22.5 -2\\3 22.5 -2\\4 22.5 -2\\5 22.5 0.6\\6 22.5 4.8\\7 22.5 5.6\\8 22.5 6.1\\9 22.5 5.4\\10 22.5 2.0\\11 22.5 -2\\12 22.5 -2\\
1 20 -2\\2 20 -2\\3 20 -2\\4 20 -0.1\\5 20 3.2\\6 20 5.9\\7 20 6.4\\8 20 6.6\\9 20 5.9\\10 20 4.3\\11 20 -0.5\\12 20 -2\\
1 17.5 -2\\2 17.5 -0.8\\3 17.5 0.4\\4 17.5 2.4\\5 17.5 4.6\\6 17.5 6.4\\7 17.5 6.6\\8 17.5 6.3\\9 17.5 6.3\\10 17.5 5.2\\11 17.5 2.3\\12 17.5 -2\\
1 15 0.4\\2 15 1.8\\3 15 3.4\\4 15 4.2\\5 15 5.5\\6 15 6.1\\7 15 5.9\\8 15 4.8\\9 15 5.2\\10 15 5.0\\11 15 4.0\\12 15 0.6\\
1 12.5 3.2\\2 12.5 4.1\\3 12.5 4.8\\4 12.5 5.2\\5 12.5 5.0\\6 12.5 4.8\\7 12.5 4.3\\8 12.5 0.8\\9 12.5 3.2\\10 12.5 4.1\\11 12.5 4.4\\12 12.5 3.3\\
1 10 4.3\\2 10 5.1\\3 10 5.2\\4 10 4.2\\5 10 3.4\\6 10 2.8\\7 10 2.2\\8 10 -1.5\\9 10 0.6\\10 10 3.0\\11 10 4.0\\12 10 4.2\\
1 7.5 4.5\\2 7.5 4.7\\3 7.5 4.4\\4 7.5 3.0\\5 7.5 0.4\\6 7.5 0.3\\7 7.5 -0.4\\8 7.5 -2\\9 7.5 -1.0\\10 7.5 1.8\\11 7.5 3.3\\12 7.5 4.5\\
1 5 4.8\\2 5 4.4\\3 5 3.6\\4 5 1.8\\5 5 -1.2\\6 5 -2\\7 5 -2\\8 5 -2\\9 5 -2\\10 5 0.3\\11 5 3.0\\12 5 4.8\\
1 2.5 5.2\\2 2.5 4.3\\3 2.5 3.0\\4 2.5 1.0\\5 2.5 -2\\6 2.5 -2\\7 2.5 -2\\8 2.5 -2\\9 2.5 -1.0\\10 2.5 1.0\\11 2.5 2.8\\12 2.5 5.1\\
1 0 4.6\\2 0 3.9\\3 0 2.7\\4 0 0.5\\5 0 -2\\6 0 -2\\7 0 -2\\8 0 -2\\9 0 -1.5\\10 0 0.5\\11 0 2.7\\12 0 4.6\\
1 -2.5 4.2\\2 -2.5 3.5\\3 -2.5 2.4\\4 -2.5 0.3\\5 -2.5 -2\\6 -2.5 -2\\7 -2.5 -2\\8 -2.5 -2\\9 -2.5 -2\\10 -2.5 0.3\\11 -2.5 2.6\\12 -2.5 4.1\\
1 -5 4.0\\2 -5 3.3\\3 -5 2.2\\4 -5 0.1\\5 -5 -2\\6 -5 -2\\7 -5 -2\\8 -5 -2\\9 -5 -2\\10 -5 0.1\\11 -5 2.5\\12 -5 3.8\\
1 -7.5 3.9\\2 -7.5 3.2\\3 -7.5 2.1\\4 -7.5 0.0\\5 -7.5 -2\\6 -7.5 -2\\7 -7.5 -2\\8 -7.5 -2\\9 -7.5 -2\\10 -7.5 -0.1\\11 -7.5 2.4\\12 -7.5 3.6\\
1 -10 3.8\\2 -10 3.1\\3 -10 2.0\\4 -10 -0.1\\5 -10 -2\\6 -10 -2\\7 -10 -2\\8 -10 -2\\9 -10 -2\\10 -10 -0.3\\11 -10 2.3\\12 -10 3.5\\
};
\end{axis}

% MRI-ESM2-0
\begin{axis}[panel, at={(414.5pt,-292pt)}, width=119.5pt, height=103pt, ymin=-9.3, ymax=39.9, ytick={0,10,20,30}]
\addplot[cf] table[row sep=\\, x=x, y=y, meta=z] {x y z\\
1 35 -2\\2 35 -2\\3 35 -2\\4 35 -2\\5 35 -2\\6 35 -2\\7 35 -2\\8 35 -2\\9 35 -2\\10 35 -2\\11 35 -2\\12 35 -2\\
1 32.5 -2\\2 32.5 -2\\3 32.5 -2\\4 32.5 -2\\5 32.5 -2\\6 32.5 -2\\7 32.5 -0.6\\8 32.5 0.1\\9 32.5 -1.0\\10 32.5 -2\\11 32.5 -2\\12 32.5 -2\\
1 30 -2\\2 30 -2\\3 30 -2\\4 30 -2\\5 30 -2\\6 30 -1.2\\7 30 2.0\\8 30 2.6\\9 30 1.8\\10 30 -2\\11 30 -2\\12 30 -2\\
1 27.5 -2\\2 27.5 -2\\3 27.5 -2\\4 27.5 -2\\5 27.5 -2\\6 27.5 1.6\\7 27.5 4.2\\8 27.5 4.5\\9 27.5 3.8\\10 27.5 -0.8\\11 27.5 -2\\12 27.5 -2\\
1 25 -2\\2 25 -2\\3 25 -2\\4 25 -2\\5 25 -2\\6 25 4.0\\7 25 5.5\\8 25 5.6\\9 25 5.0\\10 25 1.8\\11 25 -2\\12 25 -2\\
1 22.5 -2\\2 22.5 -2\\3 22.5 -2\\4 22.5 -2\\5 22.5 0.6\\6 22.5 5.5\\7 22.5 6.9\\8 22.5 6.5\\9 22.5 5.8\\10 22.5 3.8\\11 22.5 -2\\12 22.5 -2\\
1 20 -2\\2 20 -2\\3 20 -2\\4 20 -0.5\\5 20 3.4\\6 20 6.6\\7 20 7.8\\8 20 7.4\\9 20 6.4\\10 20 5.0\\11 20 0.6\\12 20 -2\\
1 17.5 -2\\2 17.5 -1.0\\3 17.5 0.2\\4 17.5 2.4\\5 17.5 5.2\\6 17.5 6.8\\7 17.5 8.3\\8 17.5 7.6\\9 17.5 7.1\\10 17.5 5.7\\11 17.5 3.3\\12 17.5 -1.0\\
1 15 0.5\\2 15 1.5\\3 15 4.2\\4 15 4.6\\5 15 5.9\\6 15 6.6\\7 15 6.8\\8 15 6.6\\9 15 6.9\\10 15 6.1\\11 15 4.6\\12 15 1.6\\
1 12.5 3.2\\2 12.5 3.8\\3 12.5 5.2\\4 12.5 5.3\\5 12.5 5.3\\6 12.5 5.0\\7 12.5 4.9\\8 12.5 4.6\\9 12.5 4.6\\10 12.5 4.8\\11 12.5 4.3\\12 12.5 3.8\\
1 10 3.9\\2 10 4.4\\3 10 4.4\\4 10 3.8\\5 10 2.5\\6 10 2.4\\7 10 2.3\\8 10 2.0\\9 10 1.9\\10 10 2.2\\11 10 3.7\\12 10 4.3\\
1 7.5 3.8\\2 7.5 4.3\\3 7.5 3.5\\4 7.5 2.0\\5 7.5 -0.2\\6 7.5 -0.2\\7 7.5 -0.1\\8 7.5 -0.1\\9 7.5 -1.2\\10 7.5 0.1\\11 7.5 2.9\\12 7.5 4.2\\
1 5 3.7\\2 5 4.1\\3 5 2.8\\4 5 0.8\\5 5 -2\\6 5 -2\\7 5 -2\\8 5 -2\\9 5 -2\\10 5 -0.2\\11 5 2.1\\12 5 3.8\\
1 2.5 3.8\\2 2.5 3.7\\3 2.5 2.3\\4 2.5 0.4\\5 2.5 -2\\6 2.5 -2\\7 2.5 -2\\8 2.5 -2\\9 2.5 -2\\10 2.5 -0.3\\11 2.5 1.6\\12 2.5 3.5\\
1 0 4.1\\2 0 3.4\\3 0 1.9\\4 0 0.0\\5 0 -2\\6 0 -2\\7 0 -2\\8 0 -2\\9 0 -2\\10 0 -0.4\\11 0 1.2\\12 0 3.3\\
1 -2.5 4.7\\2 -2.5 3.2\\3 -2.5 1.6\\4 -2.5 -0.2\\5 -2.5 -2\\6 -2.5 -2\\7 -2.5 -2\\8 -2.5 -2\\9 -2.5 -2\\10 -2.5 -0.6\\11 -2.5 0.9\\12 -2.5 3.1\\
1 -5 5.1\\2 -5 3.1\\3 -5 1.4\\4 -5 -0.4\\5 -5 -2\\6 -5 -2\\7 -5 -2\\8 -5 -2\\9 -5 -2\\10 -5 -0.8\\11 -5 0.6\\12 -5 2.9\\
1 -7.5 4.3\\2 -7.5 2.9\\3 -7.5 1.3\\4 -7.5 -0.5\\5 -7.5 -2\\6 -7.5 -2\\7 -7.5 -2\\8 -7.5 -2\\9 -7.5 -2\\10 -7.5 -1.0\\11 -7.5 0.3\\12 -7.5 2.7\\
1 -10 3.3\\2 -10 2.7\\3 -10 1.2\\4 -10 -0.6\\5 -10 -2\\6 -10 -2\\7 -10 -2\\8 -10 -2\\9 -10 -2\\10 -10 -1.2\\11 -10 -0.1\\12 -10 2.4\\
};
\end{axis}

% NorESM2-LM
\begin{axis}[panel, at={(547pt,-293pt)}, width=111.5pt, height=104pt, ymin=-8.6, ymax=40, ytick={0,10,20,30}]
\addplot[cf] table[row sep=\\, x=x, y=y, meta=z] {x y z\\
1 35 -2\\2 35 -2\\3 35 -2\\4 35 -2\\5 35 -2\\6 35 -2\\7 35 -2\\8 35 -2\\9 35 -2\\10 35 -2\\11 35 -2\\12 35 -2\\
1 32.5 -2\\2 32.5 -2\\3 32.5 -2\\4 32.5 -2\\5 32.5 -2\\6 32.5 -2\\7 32.5 -2\\8 32.5 -2\\9 32.5 -2\\10 32.5 -2\\11 32.5 -2\\12 32.5 -2\\
1 30 -2\\2 30 -2\\3 30 -2\\4 30 -2\\5 30 -2\\6 30 -0.8\\7 30 0.5\\8 30 0.8\\9 30 -1.0\\10 30 -2\\11 30 -2\\12 30 -2\\
1 27.5 -2\\2 27.5 -2\\3 27.5 -2\\4 27.5 -2\\5 27.5 -2\\6 27.5 1.6\\7 27.5 2.6\\8 27.5 2.7\\9 27.5 1.4\\10 27.5 -2\\11 27.5 -2\\12 27.5 -2\\
1 25 -2\\2 25 -2\\3 25 -2\\4 25 -2\\5 25 -1.5\\6 25 3.0\\7 25 3.5\\8 25 3.4\\9 25 3.0\\10 25 -2\\11 25 -2\\12 25 -2\\
1 22.5 -2\\2 22.5 -2\\3 22.5 -2\\4 22.5 -2\\5 22.5 1.3\\6 22.5 3.8\\7 22.5 4.1\\8 22.5 3.8\\9 22.5 3.6\\10 22.5 -1.2\\11 22.5 -2\\12 22.5 -2\\
1 20 -2\\2 20 -2\\3 20 -2\\4 20 -2\\5 20 3.0\\6 20 4.3\\7 20 4.3\\8 20 4.2\\9 20 4.0\\10 20 1.2\\11 20 -2\\12 20 -2\\
1 17.5 -2\\2 17.5 -2\\3 17.5 -1.2\\4 17.5 0.4\\5 17.5 3.7\\6 17.5 4.3\\7 17.5 4.2\\8 17.5 4.2\\9 17.5 4.2\\10 17.5 3.0\\11 17.5 -1.0\\12 17.5 -2\\
1 15 -0.2\\2 15 0.2\\3 15 1.0\\4 15 3.1\\5 15 3.6\\6 15 3.9\\7 15 3.9\\8 15 3.6\\9 15 3.6\\10 15 3.5\\11 15 1.6\\12 15 0.5\\
1 12.5 2.8\\2 12.5 3.4\\3 12.5 3.8\\4 12.5 4.0\\5 12.5 3.4\\6 12.5 3.1\\7 12.5 3.0\\8 12.5 2.4\\9 12.5 2.7\\10 12.5 3.2\\11 12.5 3.5\\12 12.5 3.2\\
1 10 4.8\\2 10 5.0\\3 10 4.7\\4 10 3.7\\5 10 2.6\\6 10 2.2\\7 10 2.0\\8 10 1.2\\9 10 1.8\\10 10 2.6\\11 10 3.6\\12 10 4.2\\
1 7.5 5.3\\2 7.5 5.2\\3 7.5 4.9\\4 7.5 2.8\\5 7.5 1.2\\6 7.5 1.0\\7 7.5 0.6\\8 7.5 -0.8\\9 7.5 0.8\\10 7.5 1.8\\11 7.5 3.3\\12 7.5 4.5\\
1 5 5.1\\2 5 4.6\\3 5 4.2\\4 5 2.0\\5 5 -0.2\\6 5 -0.5\\7 5 -0.6\\8 5 -2\\9 5 -0.5\\10 5 0.5\\11 5 2.8\\12 5 4.6\\
1 2.5 4.8\\2 2.5 4.3\\3 2.5 3.5\\4 2.5 1.5\\5 2.5 -1.0\\6 2.5 -2\\7 2.5 -2\\8 2.5 -2\\9 2.5 -1.0\\10 2.5 0.8\\11 2.5 2.5\\12 2.5 4.4\\
1 0 4.6\\2 0 4.2\\3 0 3.2\\4 0 1.5\\5 0 -1.0\\6 0 -2\\7 0 -2\\8 0 -2\\9 0 -1.2\\10 0 1.0\\11 0 2.4\\12 0 4.0\\
1 -2.5 4.8\\2 -2.5 4.3\\3 -2.5 3.2\\4 -2.5 1.6\\5 -2.5 -0.9\\6 -2.5 -2\\7 -2.5 -2\\8 -2.5 -2\\9 -2.5 -1.0\\10 -2.5 1.5\\11 -2.5 2.5\\12 -2.5 3.8\\
1 -5 5.2\\2 -5 4.6\\3 -5 3.3\\4 -5 1.7\\5 -5 -0.8\\6 -5 -2\\7 -5 -2\\8 -5 -2\\9 -5 -1.4\\10 -5 0.9\\11 -5 2.4\\12 -5 3.6\\
1 -7.5 5.4\\2 -7.5 4.9\\3 -7.5 3.3\\4 -7.5 1.8\\5 -7.5 -0.7\\6 -7.5 -2\\7 -7.5 -2\\8 -7.5 -2\\9 -7.5 -1.6\\10 -7.5 0.5\\11 -7.5 2.4\\12 -7.5 3.5\\
1 -10 5.4\\2 -10 4.95\\3 -10 3.3\\4 -10 1.9\\5 -10 -0.6\\6 -10 -2\\7 -10 -2\\8 -10 -2\\9 -10 -1.8\\10 -10 0.2\\11 -10 2.4\\12 -10 3.4\\
};
\end{axis}

% colour bar
\begin{axis}[scale only axis, anchor=south west, at={(217pt,-325pt)}, width=240pt, height=12.5pt,
  xmin=0, xmax=9, ymin=0, ymax=1, clip=false, axis on top,
  xtick={0,1,2,3,4,5,6,7,8,9}, ytick=\empty, xtick pos=left, tick align=outside, major tick length=1.2pt,
  axis line style={draw=black!35, line width=0.3pt}, tick style={draw=black!55, line width=0.3pt},
  tick label style={font=\cbfont, text=black!72}, /pgf/number format/assume math mode=true,
  xticklabel style={inner sep=0pt, anchor=north, yshift=-1.8pt}]
\addplot[fill=cP, draw=black!35, line width=0.3pt] coordinates {(0,0) (-0.45,0.5) (0,1)} -- cycle;
\addplot[fill=cA, draw=none] coordinates {(0,0) (1,0) (1,1) (0,1)} -- cycle;
\addplot[fill=cB, draw=none] coordinates {(1,0) (2,0) (2,1) (1,1)} -- cycle;
\addplot[fill=cC, draw=none] coordinates {(2,0) (3,0) (3,1) (2,1)} -- cycle;
\addplot[fill=cD, draw=none] coordinates {(3,0) (4,0) (4,1) (3,1)} -- cycle;
\addplot[fill=cE, draw=none] coordinates {(4,0) (5,0) (5,1) (4,1)} -- cycle;
\addplot[fill=cF, draw=none] coordinates {(5,0) (6,0) (6,1) (5,1)} -- cycle;
\addplot[fill=cG, draw=none] coordinates {(6,0) (7,0) (7,1) (6,1)} -- cycle;
\addplot[fill=cH, draw=none] coordinates {(7,0) (8,0) (8,1) (7,1)} -- cycle;
\addplot[fill=cI, draw=none] coordinates {(8,0) (9,0) (9,1) (8,1)} -- cycle;
\end{axis}

% titles
\node[anchor=base, font=\ttl] at (83.5pt,-14.25pt) {ERA5};
\node[anchor=base, font=\ttl] at (212pt,-13.75pt) {MERRA2};
\node[anchor=base, font=\ttl] at (345.75pt,-15pt) {CNRM-CM6-1};
\node[anchor=base, font=\ttl] at (467pt,-15.25pt) {GISS-E2-1G};
\node[anchor=base, font=\ttl] at (606pt,-15.75pt) {IPSL-CM6A-LR};
\node[anchor=base, font=\ttl] at (78pt,-181.75pt) {MPI-ESM-1-2-HAM};
\node[anchor=base, font=\ttl] at (217.25pt,-180.75pt) {MPI-ESM1-2-HR};
\node[anchor=base, font=\ttl] at (347.75pt,-180.5pt) {MPI-ESM1-2-LR};
\node[anchor=base, font=\ttl] at (479pt,-179.25pt) {MRI-ESM2-\hspace{1.5pt}{\dv\mdseries\fontsize{10}{11}\selectfont 0}};
\node[anchor=base, font=\ttl] at (603.75pt,-179pt) {NorESM2-LM};
\end{tikzpicture}
\end{document}
